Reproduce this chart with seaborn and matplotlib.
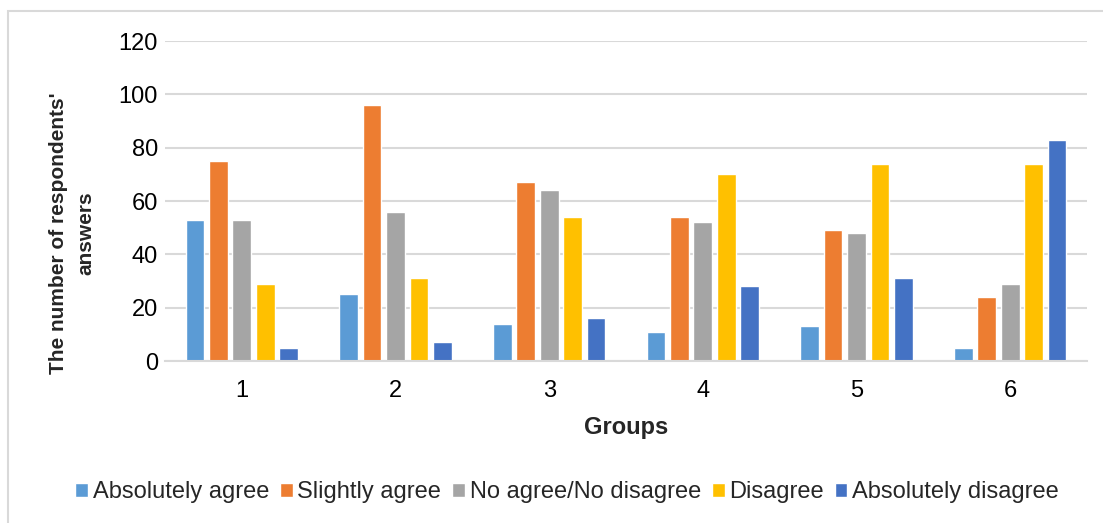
import matplotlib
matplotlib.use("Agg")
import matplotlib.pyplot as plt
from matplotlib.patches import Rectangle
import seaborn as sns
import pandas as pd

groups = ["1", "2", "3", "4", "5", "6"]
answers = ["Absolutely agree", "Slightly agree", "No agree/No disagree",
           "Disagree", "Absolutely disagree"]
absolutely_agree = [53, 25, 14, 11, 13, 5]
slightly_agree = [75, 96, 67, 54, 49, 24]
neutral = [53, 56, 64, 52, 48, 29]
disagree = [29, 31, 54, 70, 74, 74]
absolutely_disagree = [5, 7, 16, 28, 31, 83]
palette = ["#5B9BD5", "#ED7D31", "#A5A5A5", "#FFC000", "#4472C4"]

series = [absolutely_agree, slightly_agree, neutral, disagree, absolutely_disagree]
rows = []
for name, vals in zip(answers, series):
    for g, v in zip(groups, vals):
        rows.append({"Groups": g, "Answer": name, "Count": v})
df = pd.DataFrame(rows)

sns.set_theme(style="white")
plt.rcParams["font.family"] = ["Liberation Sans", "DejaVu Sans"]

W, H = 1103, 523
fig = plt.figure(figsize=(W / 100, H / 100), dpi=100)
ax = fig.add_axes([165 / W, 1 - 361 / H, 922 / W, 320 / H])

sns.barplot(data=df, x="Groups", y="Count", hue="Answer", order=groups,
            hue_order=answers, palette=palette, width=0.76, gap=0.2,
            saturation=1, ax=ax, legend=True)

ax.set_ylim(0, 120)
ax.set_yticks(range(0, 121, 20))
ax.yaxis.grid(True, color="#D9D9D9", linewidth=1.5)
ax.set_axisbelow(True)
for s in ["top", "right", "left"]:
    ax.spines[s].set_visible(False)
ax.spines["bottom"].set_color("#D9D9D9")
ax.spines["bottom"].set_linewidth(1.5)
ax.tick_params(axis="both", length=0, labelsize=17, colors="#000000")
ax.tick_params(axis="y", pad=5)
ax.tick_params(axis="x", pad=14)

ax.set_xlabel("Groups", fontsize=17, fontweight="bold", labelpad=10)
ax.set_ylabel("")
fig.text(72 / W, 1 - 233 / H, "The number of respondents'\nanswers",
         rotation=90, ha="center", va="center", multialignment="center",
         fontsize=15, fontweight="bold", linespacing=1.6)

handles, labels = ax.get_legend_handles_labels()
ax.legend_.remove()
fig.legend(handles, labels, loc="center", bbox_to_anchor=(567 / W, 1 - 492 / H),
           ncol=5, frameon=False, fontsize=17, handlelength=0.55,
           handleheight=0.55, handletextpad=0.2, columnspacing=0.45)

# light frame around the chart area
fig.patches.append(Rectangle((8 / W, -0.1), 1.2, 1 - 11 / H + 0.1,
                             transform=fig.transFigure, fill=False,
                             edgecolor="#D9D9D9", linewidth=1.5))

fig.savefig("out.png", dpi=100)
